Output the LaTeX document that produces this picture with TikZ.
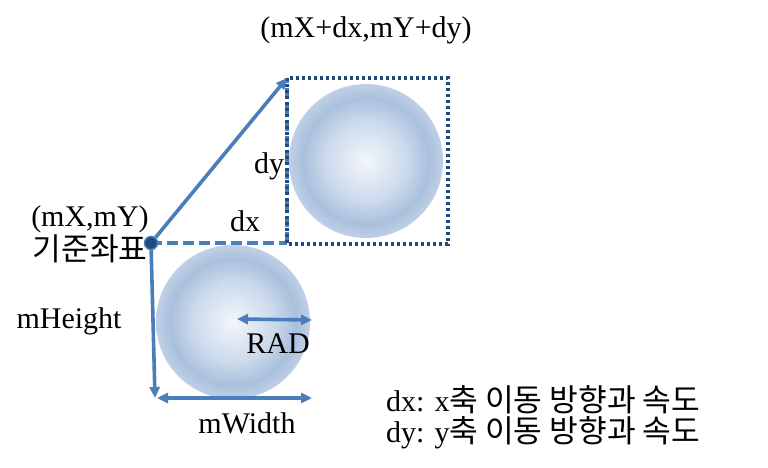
\documentclass[tikz,border=0pt]{standalone}
\usepackage{fontspec}
\setmainfont{Liberation Serif}
\newfontfamily\krfont[Scale=1.04]{Noto Sans CJK KR}
\usetikzlibrary{arrows.meta}
\definecolor{moveBlue}{HTML}{4A7EBB}
\definecolor{boxNavy}{HTML}{1F4A7C}
\definecolor{ballCore}{HTML}{F3F6FB}
\definecolor{ballMid}{HTML}{CCDAEC}
\definecolor{ballRing}{HTML}{A9C0DC}
\definecolor{ballEdge}{HTML}{BFD0E6}
\pgfdeclareradialshading{ballshade}{\pgfpoint{0bp}{0bp}}{%
  color(0bp)=(ballCore); color(13bp)=(ballMid); color(20.5bp)=(ballRing);
  color(25bp)=(ballEdge); color(50bp)=(ballEdge)}
\tikzset{
  move arrow/.style={draw=moveBlue, line width=3.6pt,
    -{Triangle[length=11pt,width=10pt]}},
  size arrow/.style={draw=moveBlue, line width=3.6pt,
    {Triangle[length=11pt,width=10pt]}-{Triangle[length=11pt,width=10pt]}},
  move dash/.style={draw=moveBlue, line width=4pt, dash pattern=on 11pt off 5pt},
  new box/.style={draw=boxNavy, line width=3.6pt, dash pattern=on 3.4pt off 2.6pt},
  ball/.style={circle, shade, shading=ballshade, minimum size=154pt, inner sep=0pt},
  lbl/.style={inner sep=0pt}
}

\begin{document}
\begin{tikzpicture}[x=1pt, y=-1pt, font=\fontsize{30}{36}\selectfont]
\useasboundingbox (0,0) rectangle (768,468);

% balls: old position and moved position
\node[ball] (ballold) at (233,322) {};
\node[ball] (ballnew) at (366,161) {};

% reference point and move vector
\coordinate (boxnw) at (287,78);
\coordinate (boxse) at (448,244);
\coordinate (dxend) at (287,243);
\draw[move dash] (151,243) coordinate (orgc) -- (dxend);
\draw[move dash] (dxend) -- (boxnw);
\draw[new box] (boxnw) rectangle (boxse);
\node[circle, fill=boxNavy, draw=moveBlue, line width=1.5pt,
  minimum size=13pt, inner sep=0pt] (org) at (orgc) {};
\draw[move arrow] (org) -- (boxnw);

% size arrows
\coordinate (hbot) at (155,398);
\coordinate (wstart) at (157,398);
\coordinate (wend) at (312,398);
\coordinate (radstart) at (237,319);
\coordinate (radend) at (312,320);
\draw[move arrow] (org) -- (hbot);
\draw[size arrow] (wstart) -- (wend);
\draw[size arrow] (radstart) -- (radend);

% labels
\node[lbl] (newpos) at (366,30) {(mX+dx,mY+dy)};
\node[lbl] (dylbl) at (269,166) {dy};
\node[lbl] (dxlbl) at (245,221) {dx};
\node[lbl] (orglbl) at (90,219) {(mX,mY)};
\node[lbl] (reflbl) at (90,249) {\krfont 기준좌표};
\node[lbl] (hlbl) at (69,321) {mHeight};
\node[lbl] (radlbl) at (278,344) {RAD};
\node[lbl] (wlbl) at (247,423) {mWidth};

% legend
\node[lbl, anchor=west] (legx) at (386,400) {dx: x{\krfont 축 이동 방향과 속도}};
\node[lbl, anchor=west] (legy) at (386,433) {dy: y{\krfont 축 이동 방향과 속도}};

\end{tikzpicture}
\end{document}
